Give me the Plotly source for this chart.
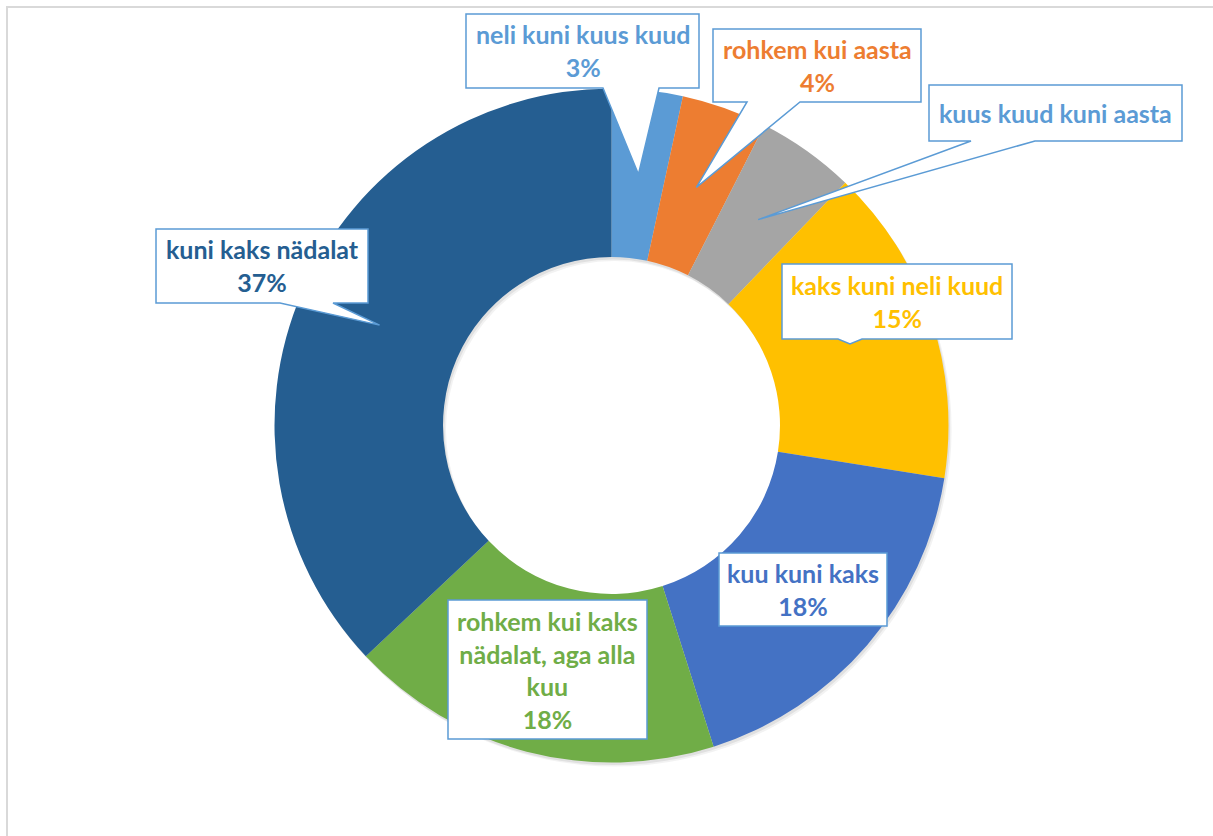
import math
import plotly.graph_objects as go

# ---------------- data ----------------
categories = [
    "neli kuni kuus kuud",
    "rohkem kui aasta",
    "kuus kuud kuni aasta",
    "kaks kuni neli kuud",
    "kuu kuni kaks",
    "rohkem kui kaks nädalat, aga alla kuu",
    "kuni kaks nädalat",
]
shares = [3.4, 4.1, 4.7, 15.3, 17.6, 17.9, 37.0]
label_lines = [
    ["neli kuni kuus kuud"],
    ["rohkem kui aasta"],
    ["kuus kuud kuni aasta"],
    ["kaks kuni neli kuud"],
    ["kuu kuni kaks"],
    ["rohkem kui kaks", "nädalat, aga alla", "kuu"],
    ["kuni kaks nädalat"],
]
show_percent = [True, True, False, True, True, True, True]

# ---------------- style ----------------
slice_colors = ["#5B9BD5", "#ED7D31", "#A5A5A5", "#FFC000", "#4472C4", "#70AD47", "#255E91"]
label_colors = ["#5B9BD5", "#ED7D31", "#5B9BD5", "#FFC000", "#4472C4", "#70AD47", "#255E91"]
BOX_LINE = "#5B9BD5"
FONT = "Lato"
FONT_SIZE = 25

W, H = 1213, 836
CX, CY, R = 611.5, 425.5, 337
HOLE = 0.5

# callout boxes in pixels: (left, top, right, bottom)
boxes = [
    (466, 14, 699, 88),
    (713, 29, 921, 102),
    (929, 85, 1182, 141),
    (782, 264, 1012, 339),
    (719, 553, 887, 626),
    (448, 600, 647, 739),
    (156, 229, 368, 303),
]
# pointer bases on the bottom edge; tip = data-label anchor of the slice
pointers = [
    {"base": (603, 659), "tip": "data"},
    {"base": (747, 800), "tip": "data"},
    {"base": (971, 1035), "tip": "data"},
    {"base": (838, 862), "depth": 5},
    None,
    None,
    {"base": (280, 333), "tip": "data"},
]


def px(x):
    return x / W


def py(y):
    return 1 - y / H


def pie_domain(dx=0.0, dy=0.0):
    return dict(
        x=[px(CX - R + dx), px(CX + R + dx)],
        y=[py(CY + R + dy), py(CY - R + dy)],
    )


fig = go.Figure()

# soft shadow under the ring
for (dx, dy, a) in [(3, 4, 0.05), (1.5, 2.5, 0.07)]:
    fig.add_trace(go.Pie(
        values=[1], hole=HOLE, sort=False, textinfo="none", hoverinfo="skip",
        marker=dict(colors=[f"rgba(0,0,0,{a})"], line=dict(width=0)),
        domain=pie_domain(dx, dy), showlegend=False,
    ))

fig.add_trace(go.Pie(
    labels=categories, values=shares, hole=HOLE, sort=False,
    direction="clockwise", rotation=0, textinfo="none",
    marker=dict(colors=slice_colors, line=dict(width=0)),
    domain=pie_domain(), showlegend=False,
))

# data-label anchors (middle of ring at mid angle of each slice)
total = sum(shares)
tips = []
cum = 0.0
rm = R * (1 + HOLE) / 2
for v in shares:
    theta = 2 * math.pi * (cum + v / 2) / total
    tips.append((CX + rm * math.sin(theta), CY - rm * math.cos(theta)))
    cum += v

shapes = [dict(
    type="rect", xref="paper", yref="paper",
    x0=px(7), y0=py(7), x1=px(W + 20), y1=py(H + 20),
    line=dict(color="#D9D9D9", width=2), fillcolor="rgba(0,0,0,0)", layer="below",
)]
annotations = []
for i, (L, T, Rt, B) in enumerate(boxes):
    pts = [(L, T), (Rt, T), (Rt, B)]
    p = pointers[i]
    if p is not None:
        b1, b2 = p["base"]
        if p.get("tip") == "data":
            tx, ty = tips[i]
        else:
            tx, ty = (b1 + b2) / 2, B + p["depth"]
        pts += [(b2, B), (tx, ty), (b1, B)]
    pts += [(L, B)]
    path = "M " + " L ".join(f"{px(x):.5f},{py(y):.5f}" for x, y in pts) + " Z"
    shapes.append(dict(
        type="path", path=path, xref="paper", yref="paper",
        fillcolor="white", line=dict(color=BOX_LINE, width=1.5), layer="above",
    ))
    lines = list(label_lines[i])
    if show_percent[i]:
        lines.append(f"{round(shares[i] / total * 100)}%")
    annotations.append(dict(
        x=px((L + Rt) / 2), y=py((T + B) / 2), xref="paper", yref="paper",
        xanchor="center", yanchor="middle", showarrow=False, align="center",
        text="<br>".join(lines),
        font=dict(family=FONT, size=FONT_SIZE, color=label_colors[i], weight="bold"),
    ))

fig.update_layout(
    width=W, height=H, margin=dict(l=0, r=0, t=0, b=0),
    paper_bgcolor="white", plot_bgcolor="white",
    shapes=shapes, annotations=annotations, showlegend=False,
)

fig.write_html("out.html")
